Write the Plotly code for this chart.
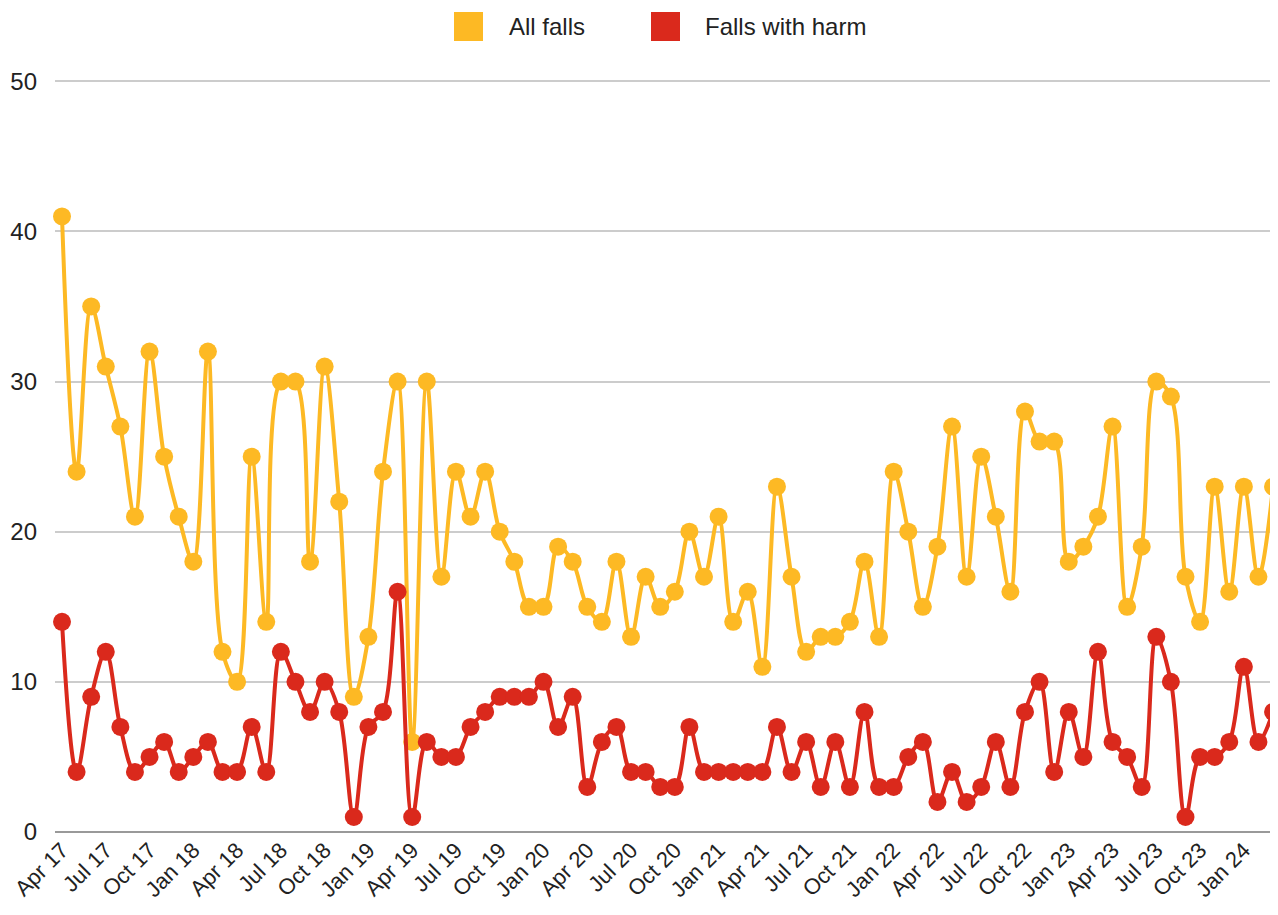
import pandas as pd
import plotly.graph_objects as go

# monthly, Apr 2017 .. Mar 2024
months = [d.strftime("%b %y") for d in pd.date_range("2017-04-01", periods=84, freq="MS")]

all_falls = [41, 24, 35, 31, 27, 21, 32, 25, 21, 18, 32, 12, 10, 25, 14, 30, 30, 18, 31, 22,
             9, 13, 24, 30, 6, 30, 17, 24, 21, 24, 20, 18, 15, 15, 19, 18, 15, 14, 18, 13,
             17, 15, 16, 20, 17, 21, 14, 16, 11, 23, 17, 12, 13, 13, 14, 18, 13, 24, 20, 15,
             19, 27, 17, 25, 21, 16, 28, 26, 26, 18, 19, 21, 27, 15, 19, 30, 29, 17, 14, 23,
             16, 23, 17, 23]

falls_with_harm = [14, 4, 9, 12, 7, 4, 5, 6, 4, 5, 6, 4, 4, 7, 4, 12, 10, 8, 10, 8,
                   1, 7, 8, 16, 1, 6, 5, 5, 7, 8, 9, 9, 9, 10, 7, 9, 3, 6, 7, 4,
                   4, 3, 3, 7, 4, 4, 4, 4, 4, 7, 4, 6, 3, 6, 3, 8, 3, 3, 5, 6,
                   2, 4, 2, 3, 6, 3, 8, 10, 4, 8, 5, 12, 6, 5, 3, 13, 10, 1, 5, 5,
                   6, 11, 6, 8]

series_names = ["All falls", "Falls with harm"]
colors = ["#FDB924", "#DA291C"]

FONT = "Arial, Liberation Sans, sans-serif"
# the page body keeps its default 8px margin, so the figure is 8px smaller
OFF = 8
W, H = 1278 - OFF, 915 - OFF
L, R, T, B = 55 - OFF, 0, 79 - OFF, 83
pw, ph = W - L - R, H - T - B

fig = go.Figure()
for name, vals, col in zip(series_names, [all_falls, falls_with_harm], colors):
    fig.add_trace(go.Scatter(
        x=months, y=vals, name=name, mode="lines+markers",
        line=dict(color=col, width=4, shape="spline", smoothing=1),
        marker=dict(color=col, size=18),
        showlegend=False, cliponaxis=False,
    ))


def px_x(p):
    return (p - OFF - L) / pw


def px_y(p):
    return (H - B - (p - OFF)) / ph


# legend drawn by hand so the swatches can be big squares
legend_items = [(454, 507), (651, 703)]
for (sq_x, tx_x), name, col in zip(legend_items, series_names, colors):
    fig.add_shape(type="rect", xref="paper", yref="paper",
                  x0=px_x(sq_x), x1=px_x(sq_x + 29), y0=px_y(41), y1=px_y(12),
                  fillcolor=col, line=dict(width=0))
    fig.add_annotation(xref="paper", yref="paper", x=px_x(tx_x), y=px_y(26.5),
                       xanchor="left", yanchor="middle", showarrow=False,
                       text=name, font=dict(family=FONT, size=24, color="#222"))

fig.update_xaxes(
    type="category", range=[-0.48, 83.34], automargin=False,
    tickvals=months[::3], ticktext=months[::3], tickangle=-45,
    showgrid=False, showline=False, ticks="",
    tickfont=dict(family=FONT, size=22, color="#222"),
)
fig.update_yaxes(
    range=[0, 50.15], tickvals=[0, 10, 20, 30, 40, 50], automargin=False,
    gridcolor="#cccccc", gridwidth=2,
    zeroline=True, zerolinecolor="#999999", zerolinewidth=2,
    showline=False, ticks="", ticklabelstandoff=17,
    tickfont=dict(family=FONT, size=24, color="#222"),
)
fig.update_layout(
    width=W, height=H,
    margin=dict(l=L, r=R, t=T, b=B),
    plot_bgcolor="white", paper_bgcolor="white",
)

fig.write_html("out.html")
